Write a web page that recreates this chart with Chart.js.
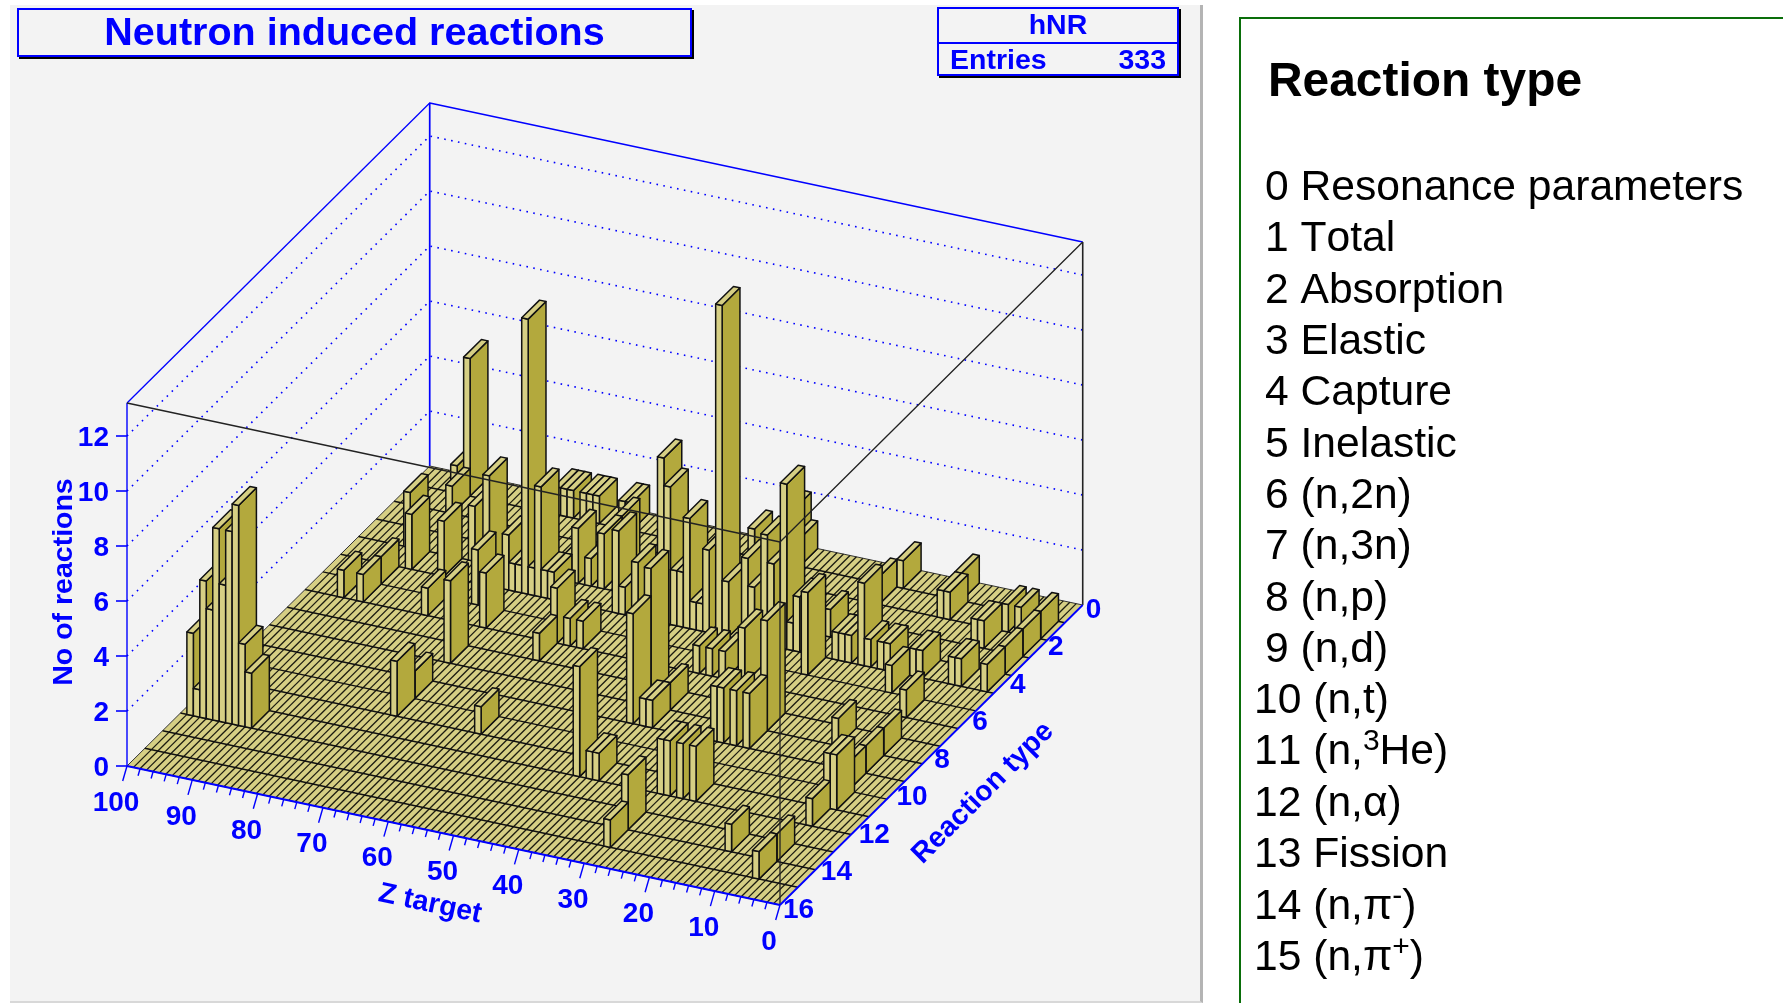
<!DOCTYPE html>
<html>
<head>
<meta charset="utf-8">
<script src="https://cdn.jsdelivr.net/npm/chart.js@4/dist/chart.umd.js"></script>
<style>
  html, body { margin: 0; padding: 0; background: #fff; width: 1783px; height: 1003px; overflow: hidden; }
  body { font-family: "Liberation Sans", Arial, sans-serif; font-kerning: none; }
  #panel { position: absolute; left: 10px; top: 5px; width: 1190px; height: 996px; background: #f3f3f3; border-right: 3px solid #b4b4b4; border-bottom: 2px solid #d8d8d8; }
  #c { position: absolute; left: 0; top: 0; }
  #titleBox { position: absolute; left: 17px; top: 8px; width: 675px; height: 49px; box-sizing: border-box; border: 2px solid #00f; box-shadow: 2px 2px 0 #000; background: #f3f3f3;
    color: #00f; font-weight: bold; font-size: 39.5px; line-height: 42px; text-align: center; }
  #statBox { position: absolute; left: 937px; top: 7px; width: 242px; height: 69px; box-sizing: border-box; border: 2px solid #00f; box-shadow: 2px 2px 0 #000; background: #f3f3f3;
    color: #00f; font-weight: bold; font-size: 28.5px; }
  #statName { height: 33px; line-height: 30px; text-align: center; border-bottom: 2px solid #00f; }
  #statRow { display: flex; justify-content: space-between; padding: 0 11px 0 11px; line-height: 30px; }
  #legend { position: absolute; left: 1239px; top: 17px; width: 560px; height: 1000px; border-left: 2px solid #0a6e0a; border-top: 2px solid #0a6e0a; }
  #legendHead { position: absolute; left: 1268px; top: 52px; font-weight: bold; font-size: 47.9px; line-height: 56px; color: #000; }
  .row { position: absolute; font-size: 42.6px; line-height: 48px; color: #000; white-space: nowrap; }
  .row sup { font-size: 30px; line-height: 0; vertical-align: baseline; position: relative; top: -14px; }
</style>
</head>
<body>
<div id="panel"></div>
<canvas id="c" width="1783" height="1003"></canvas>
<div id="titleBox">Neutron induced reactions</div>
<div id="statBox"><div id="statName">hNR</div><div id="statRow"><span>Entries</span><span>333</span></div></div>
<div id="legend"></div>
<div id="legendHead">Reaction type</div>
<script>
// === DATA: one lego bar per column, grouped by reaction row ===
const barZ = [
  99, 98, 97, 96, 95, 94, 93, 92, 91, 90,
  73, 60, 6, 5,
  73, 6,
  95, 92, 82, 73, 62, 60, 58, 40, 38, 36, 33, 8,
  92, 77, 26, 13,
  90, 85, 78, 75, 74, 73, 72, 71, 70, 69, 68, 58, 57, 55, 51, 50, 49, 48, 47, 46, 45, 44, 42, 41, 38, 37, 35, 34, 32, 31, 30, 24, 23, 22, 20, 19, 17, 16, 12, 11, 6, 5, 1,
  73, 42, 39, 24, 13, 6,
  62,
  93, 83, 68, 67, 65, 63, 28, 1,
  63, 8, 7, 1,
  92, 26, 16, 15, 6, 4, 1,
  94, 92, 78, 77, 76, 74, 73, 72, 68, 67, 48, 42, 41, 25, 16,
  42, 40, 39, 29, 28, 26, 24, 6,
  42, 40, 39, 29, 28, 26, 24, 6,
  29, 13, 6,
  29, 6
];
const barR = [
  13, 13, 13, 13, 13, 13, 13, 13, 13, 13,
  11, 11, 11, 11,
  10, 10,
  6, 6, 6, 6, 6, 6, 6, 6, 6, 6, 6, 6,
  5, 5, 5, 5,
  4, 4, 4, 4, 4, 4, 4, 4, 4, 4, 4, 4, 4, 4, 4, 4, 4, 4, 4, 4, 4, 4, 4, 4, 4, 4, 4, 4, 4, 4, 4, 4, 4, 4, 4, 4, 4, 4, 4, 4, 4, 4, 4,
  8, 8, 8, 8, 8, 8,
  7,
  3, 3, 3, 3, 3, 3, 3, 3,
  2, 2, 2, 2,
  1, 1, 1, 1, 1, 1, 1,
  0, 0, 0, 0, 0, 0, 0, 0, 0, 0, 0, 0, 0, 0, 0,
  9, 9, 9, 9, 9, 9, 9, 9,
  12, 12, 12, 12, 12, 12, 12, 12,
  14, 14, 14,
  15, 15
];
const barN = [
  3, 1, 5, 4, 7, 5, 7, 8, 3, 2,
  2, 1, 2, 2,
  1, 1,
  1, 1, 1, 2, 2, 1, 1, 1, 1, 1, 2, 1,
  1, 2, 3, 1,
  2, 2, 4, 2, 1, 1, 10, 1, 4, 1, 1, 3, 1, 2, 6, 5, 2, 2, 4, 1, 1, 3, 12, 2, 3, 2, 4, 3, 6, 1, 2, 1, 1, 1, 3, 1, 1, 1, 1, 1, 1, 1, 1,
  3, 5, 1, 4, 1, 1,
  1,
  2, 2, 1, 2, 1, 2, 1, 1,
  2, 1, 1, 1,
  1, 1, 1, 1, 1, 1, 1,
  1, 5, 1, 1, 1, 1, 1, 1, 1, 1, 1, 2, 1, 1, 1,
  4, 1, 1, 2, 2, 2, 2, 1,
  4, 1, 1, 2, 2, 2, 2, 1,
  2, 1, 1,
  1, 1
];
const zTickLabels = [0, 10, 20, 30, 40, 50, 60, 70, 80, 90, 100];
const rTickLabels = [0, 2, 4, 6, 8, 10, 12, 14, 16];
const hTickLabels = [0, 2, 4, 6, 8, 10, 12];
const reactionNames = ["Resonance parameters", "Total", "Absorption", "Elastic", "Capture", "Inelastic",
  "(n,2n)", "(n,3n)", "(n,p)", "(n,d)", "(n,t)", "(n,<sup>3</sup>He)", "(n,α)", "Fission", "(n,π<sup>-</sup>)", "(n,π<sup>+</sup>)"];
const legendBaselines = [199, 250, 302, 353, 404, 456, 507, 558, 610, 661, 712, 763, 815, 866, 918, 969];

// === BINNING AND VIEW ===
const Z_BINS = 101, R_BINS = 17, Z_MAX = 100, R_MAX = 16, H_MAX = 13.2;

function project(z, r, h) {
  return {
    x: 780 - 6.53 * z + 18.92 * (R_MAX - r),
    y: 905 - 1.39 * z - 18.75 * (R_MAX - r) - 27.5 * h,
  };
}
const zEdge = i => i * Z_MAX / Z_BINS;
const rEdge = i => i * R_MAX / R_BINS;

// === COLOURS ===
const LIGHT = "#d6cf84", DARK = "#b3a93d", EDGE = "#111", BLUE = "#0000ff";

// Every polygon or polyline is one dataset; the controller keeps the library's pixel parsing
class PolyController extends Chart.LineController {
  draw() {
    const ds = this.getDataset();
    const pts = this.getMeta().data;
    const ctx = this.chart.ctx;
    ctx.save();
    ctx.beginPath();
    pts.forEach((p, i) => (i ? ctx.lineTo(p.x, p.y) : ctx.moveTo(p.x, p.y)));
    if (ds.polyFill) {
      ctx.closePath();
      ctx.fillStyle = ds.polyFill;
      ctx.fill();
    }
    if (ds.polyStroke) {
      ctx.strokeStyle = ds.polyStroke;
      ctx.lineWidth = ds.polyWidth || 1;
      ctx.lineJoin = "round";
      ctx.setLineDash(ds.polyDash || []);
      ctx.stroke();
    }
    ctx.restore();
  }
}
PolyController.id = "poly";
PolyController.defaults = {};
Chart.register(PolyController);

const layers = [];
function add(points, polyFill, polyStroke, polyWidth, polyDash) {
  layers.push({ data: points, polyFill, polyStroke, polyWidth, polyDash });
}

// === BACK WALLS ===
hTickLabels.slice(1).forEach(h => {
  add([project(Z_MAX, R_MAX, h), project(Z_MAX, 0, h), project(0, 0, h)], null, BLUE, 1.6, [1.6, 5.4]);
});
add([project(Z_MAX, 0, 0), project(Z_MAX, 0, H_MAX), project(0, 0, H_MAX)], null, BLUE, 1.7);
add([project(Z_MAX, R_MAX, H_MAX), project(Z_MAX, 0, H_MAX)], null, BLUE, 1.3);
add([project(Z_MAX, R_MAX, 0), project(Z_MAX, R_MAX, H_MAX)], null, BLUE, 1.4);
add([project(0, 0, 0), project(0, 0, H_MAX)], null, "#222", 1.6);

// === FLOOR ===
add([project(Z_MAX, R_MAX, 0), project(0, R_MAX, 0), project(0, 0, 0), project(Z_MAX, 0, 0)], LIGHT, "#333", 1);
for (let i = 1; i < Z_BINS; i++) add([project(zEdge(i), 0, 0), project(zEdge(i), R_MAX, 0)], null, "#1c1c10", 1.3);
for (let i = 1; i < R_BINS; i++) add([project(0, rEdge(i), 0), project(Z_MAX, rEdge(i), 0)], null, "#111", 1.5);

// === LEGO BARS, far to near ===
const order = barZ.map((_, i) => i).sort((a, b) => (barR[a] - barR[b]) || (barZ[b] - barZ[a]));
order.forEach(i => {
  const z0 = zEdge(barZ[i]), z1 = zEdge(barZ[i] + 1);
  const r0 = rEdge(barR[i]), r1 = rEdge(barR[i] + 1);
  const h = barN[i];
  add([project(z0, r1, 0), project(z0, r0, 0), project(z0, r0, h), project(z0, r1, h)], DARK, EDGE, 1.5);
  add([project(z1, r1, 0), project(z0, r1, 0), project(z0, r1, h), project(z1, r1, h)], LIGHT, EDGE, 1.5);
  add([project(z1, r1, h), project(z0, r1, h), project(z0, r0, h), project(z1, r0, h)], LIGHT, EDGE, 1.5);
});

// === FRONT BOX LINES AND AXES, over the bars ===
add([project(Z_MAX, R_MAX, H_MAX), project(0, R_MAX, H_MAX), project(0, 0, H_MAX)], null, "#222", 1.3);
add([project(0, R_MAX, 0), project(0, R_MAX, H_MAX)], null, "#222", 1.3);
add([project(Z_MAX, R_MAX, 0), project(0, R_MAX, 0)], null, BLUE, 1.8);
add([project(0, R_MAX, 0), project(0, 0, 0)], null, BLUE, 1.8);
for (let z = 0; z <= Z_MAX; z += 2) {
  const a = project(z, R_MAX, 0);
  const major = z % 10 === 0;
  add([a, { x: a.x - (major ? 4.3 : 2), y: a.y + (major ? 15 : 7) }], null, BLUE, 1.4);
}
hTickLabels.forEach(h => {
  const a = project(Z_MAX, R_MAX, h);
  add([a, { x: a.x - 11, y: a.y }], null, BLUE, 1.6);
});

// === TEXT ON THE AXES ===
const axisText = {
  id: "axisText",
  afterDraw(chart) {
    const { ctx, scales } = chart;
    const at = p => ({ x: scales.x.getPixelForValue(p.x), y: scales.y.getPixelForValue(p.y) });
    ctx.save();
    ctx.fillStyle = BLUE;
    ctx.font = 'bold 28px "Liberation Sans"';
    ctx.textBaseline = "middle";
    ctx.textAlign = "center";
    zTickLabels.forEach(z => {
      const p = at(project(z, R_MAX, 0));
      ctx.fillText(String(z), p.x - 11, p.y + 37);
    });
    ctx.textAlign = "left";
    rTickLabels.forEach(r => {
      const p = at(project(0, r, 0));
      ctx.fillText(String(r), p.x + 3, p.y + 5);
    });
    ctx.textAlign = "right";
    hTickLabels.forEach(h => {
      const p = at(project(Z_MAX, R_MAX, h));
      ctx.fillText(String(h), p.x - 18, p.y + 2);
    });
    ctx.textAlign = "center";
    ctx.font = 'bold 28.5px "Liberation Sans"';
    const rotated = (text, x, y, angle) => {
      ctx.save();
      ctx.translate(x, y);
      ctx.rotate(angle);
      ctx.fillText(text, 0, 0);
      ctx.restore();
    };
    rotated("No of reactions", 64, 582, -Math.PI / 2);
    rotated("Z target", 430, 904, 0.21);
    rotated("Reaction type", 983, 793, -Math.PI / 4);
    ctx.restore();
  },
};

new Chart(document.getElementById("c"), {
  type: "poly",
  data: { datasets: layers.map((d, i) => ({ ...d, order: layers.length - i })) },
  options: {
    responsive: false,
    animation: false,
    events: [],
    layout: { padding: 0, autoPadding: false },
    plugins: { legend: { display: false }, title: { display: false }, tooltip: { enabled: false } },
    scales: {
      x: { type: "linear", display: false, min: 0, max: 1783 },
      y: { type: "linear", display: false, min: 0, max: 1003, reverse: true },
    },
  },
  plugins: [axisText],
});

// === LEGEND PANEL ===
reactionNames.forEach((name, i) => {
  const row = document.createElement("div");
  row.className = "row";
  row.style.left = (i < 10 ? 1265 : 1254) + "px";
  row.style.top = (legendBaselines[i] - 38) + "px";
  row.innerHTML = i + " " + name;
  document.body.appendChild(row);
});
</script>
</body>
</html>
